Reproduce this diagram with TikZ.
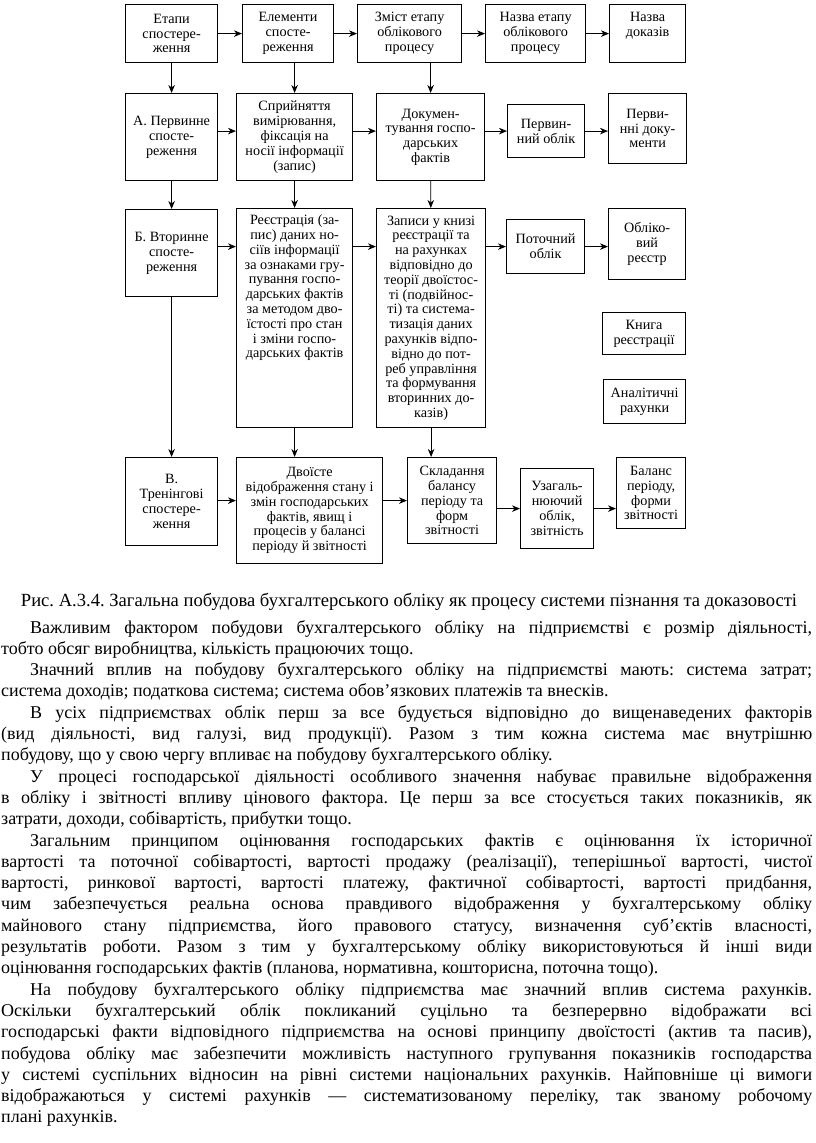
\documentclass[tikz,border=0pt]{standalone}
\usepackage{fontspec}
\setmainfont{Liberation Serif}
\usetikzlibrary{arrows.meta}
\frenchspacing
\tikzset{
  blok/.style={draw,line width=1.2pt,align=center,inner sep=2pt,anchor=north west,
    font=\fontsize{14.2}{14.8}\selectfont},
  strilka/.style={-{Stealth[length=8pt,width=6.5pt,inset=2.5pt]},line width=0.9pt},
}
\begin{document}
\begin{tikzpicture}[x=1pt,y=-1pt]
\useasboundingbox[fill=white] (0,0) rectangle (816,1143);
% row 1
\node[blok,minimum width=92pt,minimum height=58pt] (etapy) at (125,4) {Етапи\\спостере-\\ження};
\node[blok,minimum width=91pt,minimum height=58pt] (elementy) at (242,4) {Елементи\\спосте-\\реження};
\node[blok,minimum width=104pt,minimum height=58pt] (zmist) at (357,4) {Зміст етапу\\облікового\\процесу};
\node[blok,minimum width=100pt,minimum height=58pt] (nazvaetapu) at (485,4) {Назва етапу\\облікового\\процесу};
\node[blok,minimum width=76pt,minimum height=58pt] (nazvadokaziv) at (609,4) {Назва\\доказів\\\strut};
% row 2
\node[blok,minimum width=92pt,minimum height=87pt] (pervynne) at (125,93) {А. Первинне\\спосте-\\реження};
\node[blok,minimum width=116pt,minimum height=87pt] (spryinyattya) at (236,93) {Сприйняття\\вимірювання,\\фіксація на\\носії інформації\\(запис)};
\node[blok,minimum width=108pt,minimum height=87pt] (dokument) at (376,93) {Докумен-\\тування госпо-\\дарських\\фактів};
\node[blok,minimum width=77pt,minimum height=53pt] (pervoblik) at (507,104) {Первин-\\ний облік};
\node[blok,minimum width=78pt,minimum height=70pt] (pervdok) at (608,93) {Перви-\\нні доку-\\менти};
% row 3
\node[blok,minimum width=92pt,minimum height=87pt] (vtorynne) at (125,209) {Б. Вторинне\\спосте-\\реження};
\node[blok,minimum width=116pt,minimum height=219pt] (reiestratsiya) at (236,208) {Реєстрація (за-\\пис) даних но-\\сіїв інформації\\за ознаками гру-\\пування госпо-\\дарських фактів\\за методом дво-\\їстості про стан\\і зміни госпо-\\дарських фактів\\\strut\\\strut\\\strut\\\strut};
\node[blok,minimum width=109pt,minimum height=219pt] (zapysy) at (376,208) {Записи у книзі\\реєстрації та\\на рахунках\\відповідно до\\теорії двоїстос-\\ті (подвійнос-\\ті) та система-\\тизація даних\\рахунків відпо-\\відно до пот-\\реб управління\\та формування\\вторинних до-\\казів)};
\node[blok,minimum width=78pt,minimum height=54pt] (potoblik) at (506,219) {Поточний\\облік};
\node[blok,minimum width=77pt,minimum height=71pt] (oblreiestr) at (608,208) {Обліко-\\вий\\реєстр};
\node[blok,minimum width=83pt,minimum height=42pt] (knyha) at (602,312) {Книга\\реєстрації};
\node[blok,minimum width=82pt,minimum height=44pt] (analit) at (603,379) {Аналітичні\\рахунки};
% row 4
\node[blok,minimum width=92pt,minimum height=88pt] (treningovi) at (125,457) {В.\\Тренінгові\\спостере-\\ження};
\node[blok,minimum width=146pt,minimum height=106pt] (dvoiste) at (236,457) {Двоїсте\\відображення стану і\\змін господарських\\фактів, явищ і\\процесів у балансі\\періоду й звітності};
\node[blok,minimum width=89pt,minimum height=86pt] (skladannya) at (407,457) {Складання\\балансу\\періоду та\\форм\\звітності};
\node[blok,minimum width=73pt,minimum height=80pt] (uzahal) at (520,468) {Узагаль-\\нюючий\\облік,\\звітність};
\node[blok,minimum width=69pt,minimum height=71pt] (balans) at (616,457) {Баланс\\періоду,\\форми\\звітності};
% arrows across
\draw[strilka] (etapy) -- (elementy);
\draw[strilka] (elementy) -- (zmist);
\draw[strilka] (zmist) -- (nazvaetapu);
\draw[strilka] (nazvaetapu) -- (nazvadokaziv);
\draw[strilka] (pervynne.east |- pervoblik) -- (spryinyattya.west |- pervoblik);
\draw[strilka] (spryinyattya.east |- pervoblik) -- (dokument.west |- pervoblik);
\draw[strilka] (dokument.east |- pervoblik) -- (pervoblik);
\draw[strilka] (pervoblik) -- (pervdok.west |- pervoblik);
\draw[strilka] (vtorynne.east |- potoblik) -- (reiestratsiya.west |- potoblik);
\draw[strilka] (reiestratsiya.east |- potoblik) -- (zapysy.west |- potoblik);
\draw[strilka] (zapysy.east |- potoblik) -- (potoblik);
\draw[strilka] (potoblik) -- (oblreiestr.west |- potoblik);
\draw[strilka] (treningovi.east |- skladannya) -- (dvoiste.west |- skladannya);
\draw[strilka] (dvoiste.east |- skladannya) -- (skladannya);
\draw[strilka] (skladannya.east |- uzahal) -- (uzahal);
\draw[strilka] (uzahal) -- (balans.west |- uzahal);
% arrows down
\draw[strilka] (etapy) -- (pervynne);
\draw[strilka] (pervynne) -- (vtorynne);
\draw[strilka] (vtorynne) -- (treningovi);
\draw[strilka] (spryinyattya.north |- elementy.south) -- (spryinyattya.north);
\draw[strilka] (spryinyattya) -- (reiestratsiya);
\draw[strilka] (reiestratsiya.south) -- (reiestratsiya.south |- dvoiste.north);
\draw[strilka] (dokument.north |- zmist.south) -- (dokument.north);
\draw[strilka] (dokument) -- (zapysy);
\draw[strilka] (zapysy.south) -- (zapysy.south |- skladannya.north);
% caption
\node[font=\fontsize{18.6}{20}\selectfont,anchor=base,inner sep=0pt] (pidpys) at (409,606)
  {Рис. А.3.4. Загальна побудова бухгалтерського обліку як процесу системи пізнання та доказовості};
% text
\node[font=\fontsize{18}{21.3}\selectfont,anchor=base west,inner sep=0pt,
  text width=811pt,align=justify] (tekst) at (1,633) {\parindent=0pt\relax
\hspace*{29pt}Важливим фактором побудови бухгалтерського обліку на підприємстві є розмір діяльності,\linebreak
тобто обсяг виробництва, кількість працюючих тощо.\par
\hspace*{29pt}Значний вплив на побудову бухгалтерського обліку на підприємстві мають: система затрат;\linebreak
система доходів; податкова система; система обов’язкових платежів та внесків.\par
\hspace*{29pt}В усіх підприємствах облік перш за все будується відповідно до вищенаведених факторів\linebreak
(вид діяльності, вид галузі, вид продукції). Разом з тим кожна система має внутрішню\linebreak
побудову, що у свою чергу впливає на побудову бухгалтерського обліку.\par
\hspace*{29pt}У процесі господарської діяльності особливого значення набуває правильне відображення\linebreak
в обліку і звітності впливу цінового фактора. Це перш за все стосується таких показників, як\linebreak
затрати, доходи, собівартість, прибутки тощо.\par
\hspace*{29pt}Загальним принципом оцінювання господарських фактів є оцінювання їх історичної\linebreak
вартості та поточної собівартості, вартості продажу (реалізації), теперішньої вартості, чистої\linebreak
вартості, ринкової вартості, вартості платежу, фактичної собівартості, вартості придбання,\linebreak
чим забезпечується реальна основа правдивого відображення у бухгалтерському обліку\linebreak
майнового стану підприємства, його правового статусу, визначення суб’єктів власності,\linebreak
результатів роботи. Разом з тим у бухгалтерському обліку використовуються й інші види\linebreak
оцінювання господарських фактів (планова, нормативна, кошторисна, поточна тощо).\par
\hspace*{29pt}На побудову бухгалтерського обліку підприємства має значний вплив система рахунків.\linebreak
Оскільки бухгалтерський облік покликаний суцільно та безперервно відображати всі\linebreak
господарські факти відповідного підприємства на основі принципу двоїстості (актив та пасив),\linebreak
побудова обліку має забезпечити можливість наступного групування показників господарства\linebreak
у системі суспільних відносин на рівні системи національних рахунків. Найповніше ці вимоги\linebreak
відображаються у системі рахунків — систематизованому переліку, так званому робочому\linebreak
плані рахунків.};
\end{tikzpicture}
\end{document}
